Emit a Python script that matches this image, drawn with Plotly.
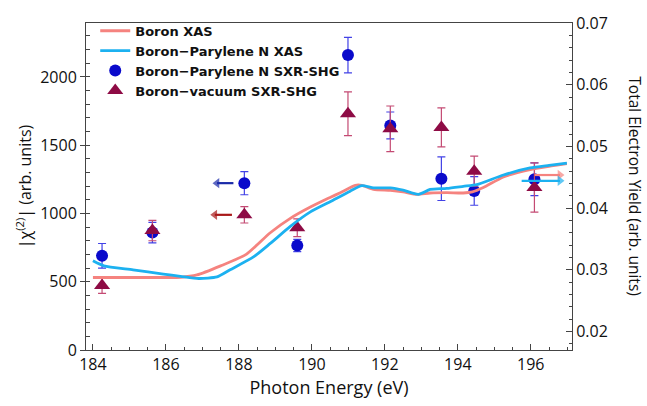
import plotly.graph_objects as go

# ---- data ----
energy_shg = [184.25, 185.63, 188.15, 189.6, 190.99, 192.15, 193.55, 194.45, 196.1]
parylene_shg = [690, 860, 1222, 765, 2160, 1645, 1255, 1165, 1250]
parylene_err = [90, 75, 85, 45, 130, 98, 160, 105, 120]
vacuum_shg = [472, 875, 990, 895, 1730, 1620, 1630, 1310, 1190]
vacuum_err = [58, 75, 60, 65, 160, 167, 143, 110, 180]

xas_b_energy = [184.0, 185.0, 186.0, 186.4, 186.85, 187.5, 188.2, 188.86, 189.41, 189.96,
                190.5, 190.78, 191.19, 191.37, 191.69, 192.15, 192.5, 192.88, 193.24,
                193.7, 194.15, 194.4, 194.7, 195.25, 195.98, 196.5, 196.99]
xas_b_tey = [0.02875, 0.02875, 0.02875, 0.02878, 0.02916, 0.03063, 0.0325, 0.036, 0.03833,
             0.04016, 0.04172, 0.0425, 0.04369, 0.04369, 0.04302, 0.04286, 0.04262,
             0.04223, 0.04245, 0.04250, 0.04245, 0.04262, 0.04333, 0.04505, 0.04625,
             0.04677, 0.04719]

xas_p_energy = [184.0, 184.3, 185.1, 185.93, 186.4, 186.9, 187.4, 187.76, 188.4, 188.86,
                189.41, 189.96, 190.5, 191.05, 191.37, 191.69, 192.15, 192.5, 192.92,
                193.24, 193.7, 194.15, 194.52, 195.25, 195.98, 196.5, 196.99]
xas_p_tey = [0.03145, 0.03063, 0.0300, 0.02931, 0.02895, 0.02859, 0.02884, 0.0300, 0.03208,
             0.03427, 0.03703, 0.03938, 0.04103, 0.04275, 0.04364, 0.04328, 0.04328,
             0.04291, 0.04223, 0.04302, 0.04320, 0.04353, 0.0438, 0.04536, 0.0465,
             0.04692, 0.04728]

x_ticks = [184, 186, 188, 190, 192, 194, 196]
left_ticks = [0, 500, 1000, 1500, 2000]
right_ticks = [0.02, 0.03, 0.04, 0.05, 0.06, 0.07]

# axis-indicator arrows: (tail x, head x, y)
left_arrow_blue = (187.85, 187.40, 1222)
left_arrow_red = (187.81, 187.34, 990)
right_arrow_salmon = (196.11, 196.80, 0.04536)
right_arrow_blue = (195.75, 196.80, 0.04442)

FONT = "'Open Sans', Lato, sans-serif"
LEGFONT = "'DejaVu Sans', 'Open Sans', sans-serif"
SALMON = "#F5837F"
SKY = "#1CB1F0"
BLUE = "#0A0ACB"
MAROON = "#8E0B45"
AXC = "#444"

fig = go.Figure()
fig.add_trace(go.Scatter(x=xas_b_energy, y=xas_b_tey, mode="lines", name="Boron XAS",
                         line=dict(color=SALMON, width=2.8, shape="spline", smoothing=0.6),
                         yaxis="y2"))
fig.add_trace(go.Scatter(x=xas_p_energy, y=xas_p_tey, mode="lines", name="Boron\u2212Parylene N XAS",
                         line=dict(color=SKY, width=2.8, shape="spline", smoothing=0.6),
                         yaxis="y2"))
fig.add_trace(go.Scatter(x=energy_shg, y=parylene_shg, mode="markers",
                         name="Boron\u2212Parylene N SXR-SHG",
                         marker=dict(symbol="circle", size=12, color=BLUE),
                         error_y=dict(type="data", array=parylene_err, visible=True,
                                      color="#4242E6", thickness=1.2, width=4)))
fig.add_trace(go.Scatter(x=energy_shg, y=vacuum_shg, mode="markers",
                         name="Boron\u2212vacuum SXR-SHG",
                         marker=dict(symbol="triangle-up", size=14, color=MAROON),
                         error_y=dict(type="data", array=vacuum_err, visible=True,
                                      color="#C44A73", thickness=1.2, width=4)))


def arrow(tail_x, head_x, y, color, yaxis, head_symbol):
    fig.add_trace(go.Scatter(x=[tail_x, head_x], y=[y, y], mode="lines+markers",
                             yaxis=yaxis, showlegend=False, hoverinfo="skip",
                             line=dict(color=color, width=2.2),
                             marker=dict(symbol=["circle", head_symbol], size=[0, 9],
                                         color=color, line=dict(width=0))))


arrow(*left_arrow_blue, "#1A2AA8", "y", "triangle-left")
arrow(*left_arrow_red, "#A81818", "y", "triangle-left")
arrow(*right_arrow_salmon, SALMON, "y2", "triangle-right")
arrow(*right_arrow_blue, SKY, "y2", "triangle-right")

tickfont = dict(family=FONT, size=16, color="#111")
titlefont = dict(family=FONT, size=16, color="#111")

fig.update_layout(
    width=647, height=406,
    margin=dict(l=86, r=75, t=18, b=49),
    paper_bgcolor="white", plot_bgcolor="white",
    font=dict(family=FONT, color="#111"),
    showlegend=True,
    legend=dict(x=0.019, y=1.022, xanchor="left", yanchor="top",
                bgcolor="rgba(0,0,0,0)",
                font=dict(family=LEGFONT, size=13, color="#111", weight="bold"),
                tracegroupgap=0, itemwidth=30),
    xaxis=dict(range=[183.81, 197.13], tickvals=x_ticks, mirror=True,
               showline=True, linecolor=AXC, linewidth=1, ticks="inside",
               tickcolor=AXC, ticklen=6, tickwidth=1, showgrid=False, zeroline=False,
               tickfont=tickfont,
               minor=dict(dtick=0.5, tick0=184, ticks="inside", ticklen=3, tickcolor=AXC),
               title=dict(text="Photon Energy (eV)",
                          font=dict(family=FONT, size=18, color="#111"), standoff=6)),
    yaxis=dict(range=[0, 2395], tickvals=left_ticks,
               showline=True, linecolor=AXC, linewidth=1, ticks="outside",
               tickcolor=AXC, ticklen=5, tickwidth=1, showgrid=False, zeroline=False,
               tickfont=tickfont,
               minor=dict(dtick=100, tick0=0, ticks="inside", ticklen=4, tickcolor=AXC),
               title=dict(text="|\u03c7<sup>(2)</sup>| (arb. units)", font=titlefont, standoff=4)),
    yaxis2=dict(range=[0.0170, 0.07], tickvals=right_ticks, overlaying="y", side="right",
                tickformat=".2f",
                showline=True, linecolor=AXC, linewidth=1, ticks="inside",
                tickcolor=AXC, ticklen=6, tickwidth=1, showgrid=False, zeroline=False,
                tickfont=tickfont,
                minor=dict(dtick=0.002, tick0=0.02, ticks="inside", ticklen=3, tickcolor=AXC)),
)

fig.add_annotation(x=1.13, y=0.5, xref="paper", yref="paper",
                   text="Total Electron Yield (arb. units)", textangle=90, showarrow=False,
                   font=dict(family=FONT, size=15.5, color="#111"),
                   xanchor="center", yanchor="middle")

fig.write_html("out.html")
